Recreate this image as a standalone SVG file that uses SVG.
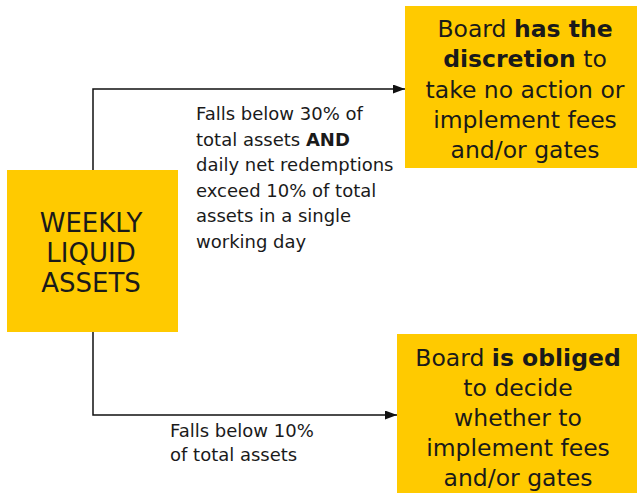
<svg xmlns="http://www.w3.org/2000/svg" width="639" height="493" viewBox="0 0 639 493">
<style>
.box{fill:#FFCA00}
.big{font-family:"DejaVu Sans","Liberation Sans",sans-serif;font-size:23.5px;fill:#1a1a1a;text-anchor:middle}
.wla{font-family:"DejaVu Sans","Liberation Sans",sans-serif;font-size:26px;fill:#1a1a1a;text-anchor:middle}
.lbl{font-family:"DejaVu Sans","Liberation Sans",sans-serif;font-size:18px;fill:#1a1a1a}
.b{font-weight:bold}
.line{fill:none;stroke:#111;stroke-width:1.5}
</style>
<defs>
<marker id="arr" markerWidth="12" markerHeight="9" refX="12" refY="4.5" orient="auto" markerUnits="userSpaceOnUse">
<path d="M0,0 L12,4.5 L0,9 Z" fill="#111"/>
</marker>
</defs>
<rect width="639" height="493" fill="#fff"/>
<g id="connectors">
<path class="line" d="M93,170 V89 H405" marker-end="url(#arr)"/>
<path class="line" d="M93,332 V415 H397" marker-end="url(#arr)"/>
<text class="lbl" x="196" y="120">Falls below 30% of</text>
<text class="lbl" x="196" y="145.5">total assets <tspan class="b">AND</tspan></text>
<text class="lbl" x="196" y="171">daily net redemptions</text>
<text class="lbl" x="196" y="196.5">exceed 10% of total</text>
<text class="lbl" x="196" y="222">assets in a single</text>
<text class="lbl" x="196" y="247.5">working day</text>
<text class="lbl" x="170" y="437">Falls below 10%</text>
<text class="lbl" x="170" y="461">of total assets</text>
</g>
<g id="weekly">
<rect class="box" x="7" y="170" width="171" height="162"/>
<text class="wla" x="91" y="231.5">WEEKLY</text>
<text class="wla" x="91" y="261.5">LIQUID</text>
<text class="wla" x="91" y="291.5">ASSETS</text>
</g>
<g id="discretion">
<rect class="box" x="405" y="6" width="232" height="162"/>
<text class="big" x="525" y="37">Board <tspan class="b">has the</tspan></text>
<text class="big" x="525" y="67"><tspan class="b">discretion</tspan> to</text>
<text class="big" x="525" y="97.5">take no action or</text>
<text class="big" x="525" y="128">implement fees</text>
<text class="big" x="525" y="158">and/or gates</text>
</g>
<g id="obliged">
<rect class="box" x="397" y="334" width="240" height="159"/>
<text class="big" x="518" y="366">Board <tspan class="b">is obliged</tspan></text>
<text class="big" x="518" y="396">to decide</text>
<text class="big" x="518" y="426">whether to</text>
<text class="big" x="518" y="456">implement fees</text>
<text class="big" x="518" y="486">and/or gates</text>
</g>
</svg>
